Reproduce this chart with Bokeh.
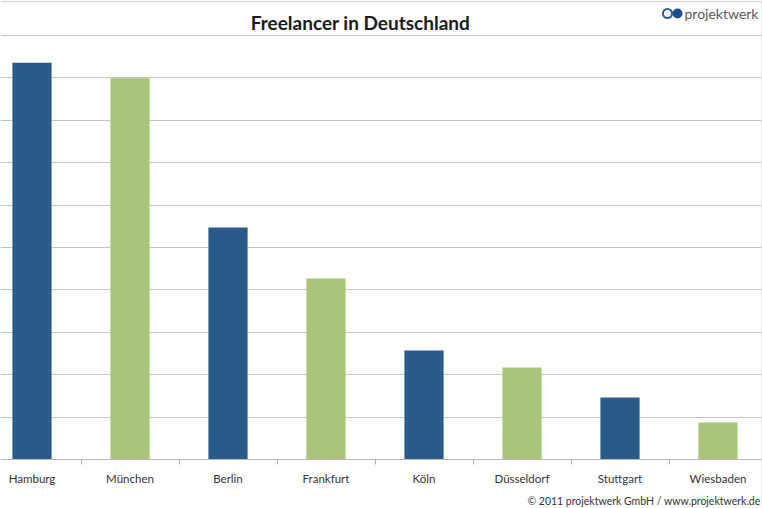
from bokeh.plotting import figure
from bokeh.models import Range1d, FixedTicker, Label, Span
from bokeh.embed import file_html
from bokeh.resources import INLINE

cities = ["Hamburg", "München", "Berlin", "Frankfurt", "Köln", "Düsseldorf", "Stuttgart", "Wiesbaden"]
values = [9.36, 8.99, 5.47, 4.27, 2.57, 2.17, 1.46, 0.87]
colors = ["#2a5b89", "#a8c47b"] * 4
title_text = "Freelancer in Deutschland"
footer_text = "© 2011 projektwerk GmbH / www.projektwerk.de"
logo_text = "projektwerk"

W, H = 762, 508
PX_PER_CAT = 98.0
X_START = 0.5 - 31.5 / PX_PER_CAT
X_END = X_START + W / PX_PER_CAT
BASE_PX = 459
Y_PER_PX = 10.0 / 424.0
Y_END = BASE_PX * Y_PER_PX
Y_START = -(H - BASE_PX) * Y_PER_PX

def dx(px):
    return X_START + px / PX_PER_CAT

def dy(py):
    return Y_END - py * Y_PER_PX

centers = [i + 0.5 for i in range(len(cities))]

p = figure(width=W, height=H, output_backend="svg", toolbar_location=None,
           x_range=Range1d(X_START, X_END), y_range=Range1d(Y_START, Y_END),
           min_border=0)
p.outline_line_color = None
p.background_fill_color = "white"
p.border_fill_color = "white"

p.vbar(x=centers, top=values, width=0.4, color=colors, line_color=None)

p.yaxis.visible = False
p.xgrid.grid_line_color = None
p.ygrid.ticker = FixedTicker(ticks=list(range(1, 11)))
p.ygrid.grid_line_color = "#c4c4c4"
p.ygrid.grid_line_width = 1.2

ax = p.xaxis[0]
ax.fixed_location = 0
ax.ticker = FixedTicker(ticks=centers, minor_ticks=[i for i in range(0, 9)])
ax.major_label_overrides = {c: n for c, n in zip(centers, cities)}
ax.major_tick_out = 0
ax.major_tick_in = 0
ax.minor_tick_out = 5
ax.minor_tick_in = 0
ax.minor_tick_line_color = "#b0b0b0"
ax.axis_line_color = "#b8b8b8"
ax.axis_line_width = 1.2
ax.major_label_standoff = 7
ax.major_label_text_font = "Lato"
ax.major_label_text_font_size = "11.5px"
ax.major_label_text_color = "#333333"

# right edge border line, as in the reference
p.add_layout(Span(location=dx(761.5), dimension="height", line_color="#d0d0d0", line_width=1))
# top border line
p.add_layout(Span(location=dy(1), dimension="width", line_color="#d8d8d8", line_width=1.5))

p.add_layout(Label(x=dx(360), y=dy(22), text=title_text, text_align="center",
                   text_baseline="middle", text_font="Lato", text_font_style="bold",
                   text_font_size="19px", text_color="#1a1a1a"))

# logo
p.scatter([dx(667)], [dy(13)], size=9, fill_color="white", line_color="#2a5b9a", line_width=2)
p.scatter([dx(677)], [dy(13)], size=10, fill_color="#1e4f8f", line_color=None)
p.add_layout(Label(x=dx(684), y=dy(13), text=logo_text, text_align="left",
                   text_baseline="middle", text_font="Lato", text_font_size="14px",
                   text_color="#5a5a5a"))

p.add_layout(Label(x=dx(760), y=dy(500), text=footer_text, text_align="right",
                   text_baseline="middle", text_font="Lato", text_font_size="10.5px",
                   text_color="#333333"))

open("out.html", "w").write(file_html(p, INLINE))
